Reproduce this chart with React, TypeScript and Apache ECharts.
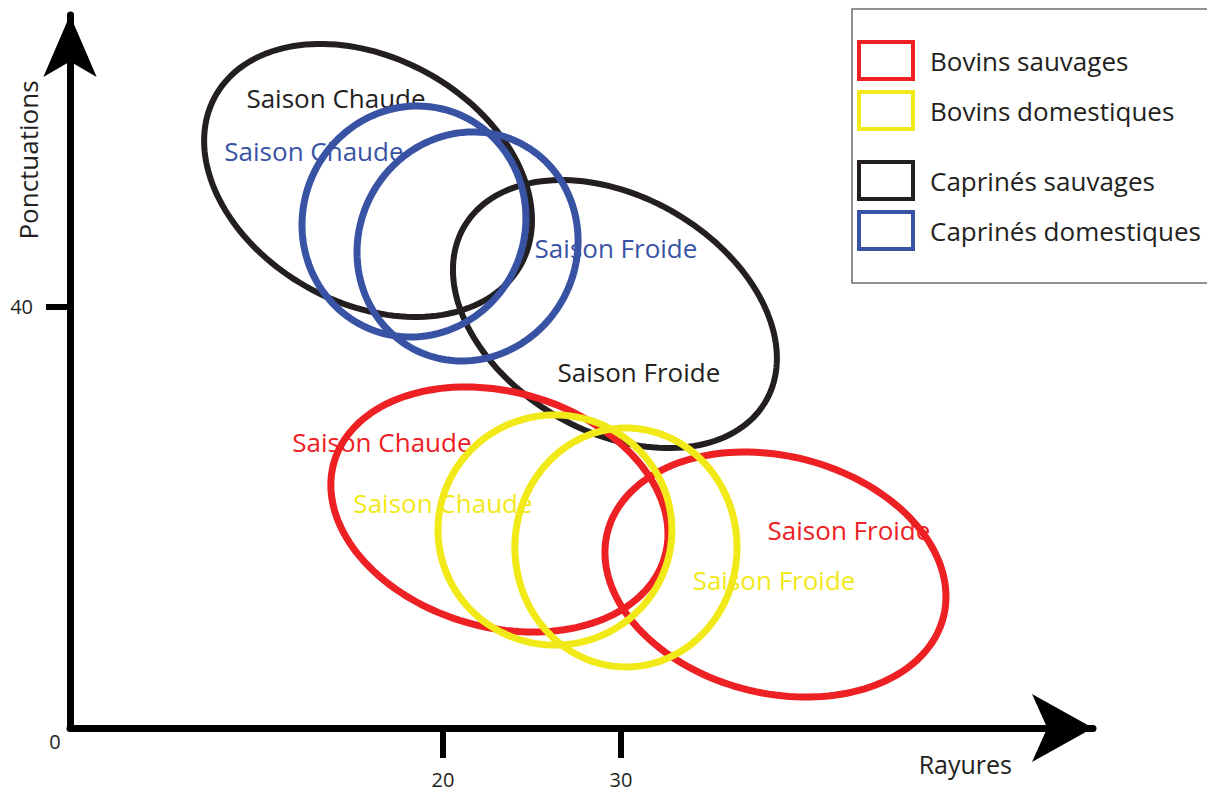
import React, { useEffect, useRef } from "react";
import * as echarts from "echarts";

// ---- data ----
const groups = ["Bovins sauvages", "Bovins domestiques", "Caprinés sauvages", "Caprinés domestiques"];
const seasons = ["Saison Chaude", "Saison Froide"];
const groupColors = ["#ED2024", "#F1E918", "#231F20", "#3953A4"];

// ellipse per season: [centre x (Rayures), centre y (Ponctuations), half-range x, half-range y, correlation]
const bovinsSauvages = [
  [23.17, 20.76, 9.47, 11.64, -0.2],
  [38.68, 14.58, 9.58, 11.64, -0.18],
];
const bovinsDomestiques = [
  [26.29, 18.81, 6.57, 10.93, 0],
  [30.28, 17.15, 6.24, 11.35, 0],
];
const capriniSauvages = [
  [15.79, 52.02, 9.21, 12.97, -0.29],
  [29.66, 39.33, 9.1, 12.73, -0.33],
];
const capriniDomestiques = [
  [18.37, 48.12, 6.29, 10.97, 0.03],
  [21.38, 45.75, 6.21, 10.88, 0.05],
];

// label anchor per season: [x, y]
const labelsBovinsSauvages = [[16.57, 27.17], [42.81, 18.81]];
const labelsBovinsDomestiques = [[20.0, 21.38], [38.6, 14.06]];
const labelsCapriniSauvages = [[13.99, 59.86], [31.01, 33.82]];
const labelsCapriniDomestiques = [[12.75, 54.82], [29.72, 45.61]];

const xTicks = [20, 30];
const yTicks = [40];
const xRange = [-0.955, 56.52];
const yRange = [0, 67.74];

const FONT = "'Open Sans', 'Noto Sans', sans-serif";

export default function App() {
  const ref = useRef<HTMLDivElement>(null);

  useEffect(() => {
    if (!ref.current) return;
    const chart = echarts.init(ref.current, undefined, { renderer: "svg" });

    const ellipseSets = [bovinsSauvages, bovinsDomestiques, capriniSauvages, capriniDomestiques];
    const labelSets = [labelsBovinsSauvages, labelsBovinsDomestiques, labelsCapriniSauvages, labelsCapriniDomestiques];
    const widths = [7, 7, 6, 7];
    // drawing order: caprinés first, bovins on top
    const order = [2, 3, 0, 1];

    const series = order.map((gi) => {
      const color = groupColors[gi];
      const lw = widths[gi];
      const data = ellipseSets[gi].map((e, si) => ({
        name: seasons[si],
        value: [e[0], e[1], e[2], e[3], e[4], labelSets[gi][si][0], labelSets[gi][si][1]],
      }));
      return {
        type: "custom",
        name: groups[gi],
        itemStyle: { color },
        encode: { x: 0, y: 1 },
        data,
        renderItem: (params: any, api: any) => {
          const cx = api.value(0);
          const cy = api.value(1);
          const sx = api.value(2);
          const sy = api.value(3);
          const r = api.value(4);
          const k = Math.sqrt(1 - r * r);
          const pts: number[][] = [];
          const N = 160;
          for (let i = 0; i < N; i++) {
            const t = (i / N) * Math.PI * 2;
            const x = cx + sx * Math.cos(t);
            const y = cy + sy * (r * Math.cos(t) - k * Math.sin(t));
            pts.push(api.coord([x, y]));
          }
          const lp = api.coord([api.value(5), api.value(6)]);
          return {
            type: "group",
            children: [
              {
                type: "polygon",
                shape: { points: pts },
                style: { fill: "none", stroke: color, lineWidth: lw },
              },
              {
                type: "text",
                x: lp[0],
                y: lp[1],
                style: {
                  text: seasons[params.dataIndex],
                  fill: color,
                  fontSize: 26,
                  fontFamily: FONT,
                  align: "center",
                  verticalAlign: "middle",
                },
              },
            ],
          };
        },
      };
    });

    const legendItem = (gi: number) => ({
      name: groups[gi],
      icon: "rect",
      itemStyle: { color: "#ffffff", borderColor: groupColors[gi], borderWidth: 4 },
    });
    const legendCommon = {
      orient: "vertical",
      left: 857,
      padding: 0,
      itemWidth: 54,
      itemHeight: 37,
      itemGap: 9,
      selectedMode: false,
      textStyle: {
        fontSize: 26,
        lineHeight: 30,
        fontFamily: FONT,
        color: "#231F20",
        padding: [0, 0, 0, 12],
      },
    };

    chart.setOption({
      animation: false,
      backgroundColor: "#ffffff",
      grid: { left: 70, top: 15, right: 114, bottom: 63, containLabel: false, outerBoundsMode: "none" },
      xAxis: {
        type: "value",
        min: xRange[0],
        max: xRange[1],
        splitLine: { show: false },
        axisLine: {
          show: true,
          onZero: false,
          symbol: ["none", "arrow"],
          symbolSize: [51, 61],
          lineStyle: { color: "#000000", width: 7 },
        },
        axisTick: { show: true, customValues: xTicks, length: 30, lineStyle: { color: "#000000", width: 6 } },
        axisLabel: {
          show: true,
          customValues: xTicks,
          margin: 41,
          fontSize: 20,
          lineHeight: 20,
          fontFamily: FONT,
          color: "#231F20",
        },
      },
      yAxis: {
        type: "value",
        min: yRange[0],
        max: yRange[1],
        splitLine: { show: false },
        axisLine: {
          show: true,
          onZero: false,
          symbol: ["none", "arrow"],
          symbolSize: [40, 62],
          lineStyle: { color: "#000000", width: 7 },
        },
        axisTick: { show: true, customValues: yTicks, length: 24, lineStyle: { color: "#000000", width: 6 } },
        axisLabel: {
          show: true,
          customValues: yTicks,
          margin: 37,
          fontSize: 20,
          fontFamily: FONT,
          color: "#231F20",
        },
      },
      legend: [
        { ...legendCommon, top: 40, data: [legendItem(0), legendItem(1)] },
        { ...legendCommon, top: 160, data: [legendItem(2), legendItem(3)] },
      ],
      graphic: [
        {
          type: "rect",
          silent: true,
          shape: { x: 852, y: 9, width: 370, height: 274 },
          style: { fill: "none", stroke: "#6D6E71", lineWidth: 1.5 },
        },
        {
          type: "text",
          x: 55,
          y: 741.5,
          style: { text: "0", fontSize: 20, fontFamily: FONT, fill: "#231F20", align: "center", verticalAlign: "middle" },
        },
        {
          type: "text",
          x: 1012,
          y: 764,
          style: { text: "Rayures", fontSize: 25, fontFamily: FONT, fill: "#231F20", align: "right", verticalAlign: "middle" },
        },
        {
          type: "text",
          x: 28,
          y: 160,
          rotation: Math.PI / 2,
          style: {
            text: "Ponctuations",
            fontSize: 26,
            fontFamily: FONT,
            fill: "#231F20",
            align: "center",
            verticalAlign: "middle",
          },
        },
      ],
      series,
    });

    return () => chart.dispose();
  }, []);

  return (
    <div
      ref={ref}
      style={{ position: "fixed", left: 0, top: 0, width: 1207, height: 791, background: "#ffffff" }}
    />
  );
}
